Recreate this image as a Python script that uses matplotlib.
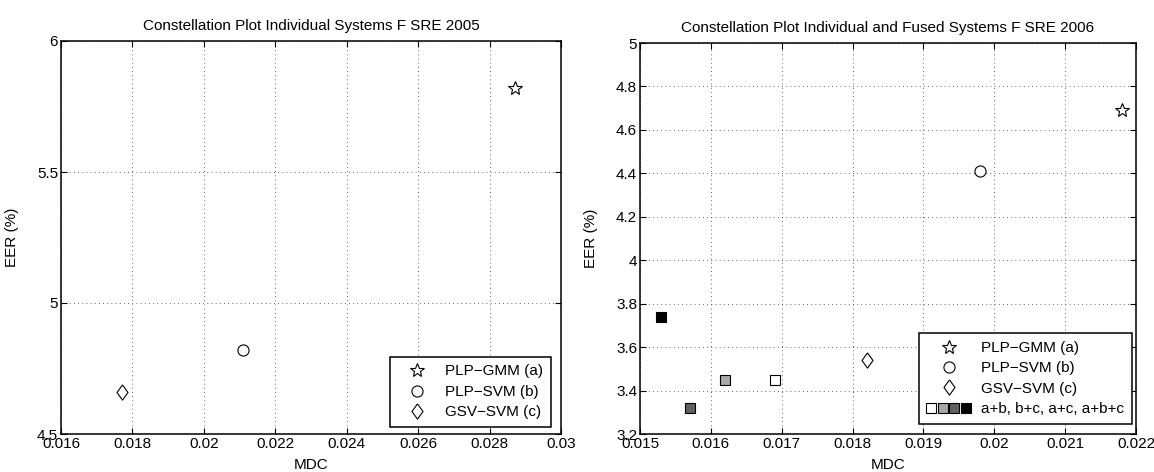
import matplotlib
matplotlib.use("Agg")
import matplotlib.pyplot as plt
from matplotlib.legend_handler import HandlerTuple
from matplotlib.lines import Line2D

plt.rcParams['font.family'] = ['Liberation Sans', 'DejaVu Sans']

# Left panel: SRE 2005
l_names = ["PLP\u2212GMM (a)", "PLP\u2212SVM (b)", "GSV\u2212SVM (c)"]
l_mdc = [0.0287, 0.0211, 0.0177]
l_eer = [5.82, 4.82, 4.66]

# Right panel: SRE 2006
r_names = ["PLP\u2212GMM (a)", "PLP\u2212SVM (b)", "GSV\u2212SVM (c)"]
r_mdc = [0.0218, 0.0198, 0.0182]
r_eer = [4.69, 4.41, 3.54]
fused_label = "a+b, b+c, a+c, a+b+c"
fused_mdc = [0.0169, 0.0162, 0.0157, 0.0153]
fused_eer = [3.45, 3.45, 3.32, 3.74]
fused_colors = ["white", "#a8a8a8", "#606060", "black"]

DIAMOND = [(0, 1), (0.72, 0), (0, -1), (-0.72, 0), (0, 1)]
marker_specs = [("*", 10.5), ("o", 8), (DIAMOND, 11)]

fig = plt.figure(figsize=(11.54, 4.72), dpi=100)
axL = fig.add_axes([61/1154, 38/472, 500/1154, 393/472])
axR = fig.add_axes([640/1154, 38/472, 496/1154, 391/472])

FS = 11

def style(ax):
    ax.grid(True, linestyle=(0, (1, 4)), color='#333333', linewidth=0.6)
    ax.tick_params(direction='in', top=True, right=True, labelsize=FS, length=4, pad=2)
    for s in ax.spines.values():
        s.set_linewidth(1.1)
    ax.set_xlabel("MDC", fontsize=FS, labelpad=5)
    ax.set_ylabel("EER (%)", fontsize=FS, labelpad=13)

leg_kw = dict(fontsize=FS, frameon=True, fancybox=False, edgecolor='black', framealpha=1,
              borderaxespad=0, borderpad=0.5, labelspacing=0.42, loc='lower right')

for x, y, (m, ms), n in zip(l_mdc, l_eer, marker_specs, l_names):
    axL.plot([x], [y], linestyle='none', marker=m, markersize=ms,
             markerfacecolor='white', markeredgecolor='black', markeredgewidth=0.8, label=n)
axL.set_xlim(0.016, 0.03)
axL.set_ylim(4.5, 6)
axL.set_xticks([0.016, 0.018, 0.02, 0.022, 0.024, 0.026, 0.028, 0.03])
axL.set_xticklabels(["0.016", "0.018", "0.02", "0.022", "0.024", "0.026", "0.028", "0.03"])
axL.set_yticks([4.5, 5, 5.5, 6])
axL.set_yticklabels(["4.5", "5", "5.5", "6"])
style(axL)
axL.set_title("Constellation Plot Individual Systems F SRE 2005", fontsize=FS, pad=8)
legL = axL.legend(bbox_to_anchor=(0.98, 0.018), handlelength=2.6, handletextpad=0.55, **leg_kw)
legL.get_frame().set_linewidth(1.1)

handlesR = []
for x, y, (m, ms), n in zip(r_mdc, r_eer, marker_specs, r_names):
    h, = axR.plot([x], [y], linestyle='none', marker=m, markersize=ms,
                  markerfacecolor='white', markeredgecolor='black', markeredgewidth=0.8, label=n)
    handlesR.append(h)
for x, y, c in zip(fused_mdc, fused_eer, fused_colors):
    axR.plot([x], [y], linestyle='none', marker='s', markersize=7.2,
             markerfacecolor=c, markeredgecolor='black', markeredgewidth=0.8)
sq_proxy = tuple(Line2D([], [], linestyle='none', marker='s', markersize=6.8,
                        markerfacecolor=c, markeredgecolor='black', markeredgewidth=0.8)
                 for c in fused_colors)
axR.set_xlim(0.015, 0.022)
axR.set_ylim(3.2, 5)
axR.set_xticks([0.015, 0.016, 0.017, 0.018, 0.019, 0.02, 0.021, 0.022])
axR.set_xticklabels(["0.015", "0.016", "0.017", "0.018", "0.019", "0.02", "0.021", "0.022"])
axR.set_yticks([3.2, 3.4, 3.6, 3.8, 4, 4.2, 4.4, 4.6, 4.8, 5])
axR.set_yticklabels(["3.2", "3.4", "3.6", "3.8", "4", "4.2", "4.4", "4.6", "4.8", "5"])
style(axR)
axR.set_title("Constellation Plot Individual and Fused Systems F SRE 2006", fontsize=FS, pad=8)
legR = axR.legend(handlesR + [sq_proxy], r_names + [fused_label],
                  bbox_to_anchor=(0.992, 0.026), handlelength=2.9, handletextpad=0.7,
                  handler_map={tuple: HandlerTuple(ndivide=None, pad=0.1)}, **leg_kw)
legR.get_frame().set_linewidth(1.1)

fig.savefig("out.png", dpi=100)
